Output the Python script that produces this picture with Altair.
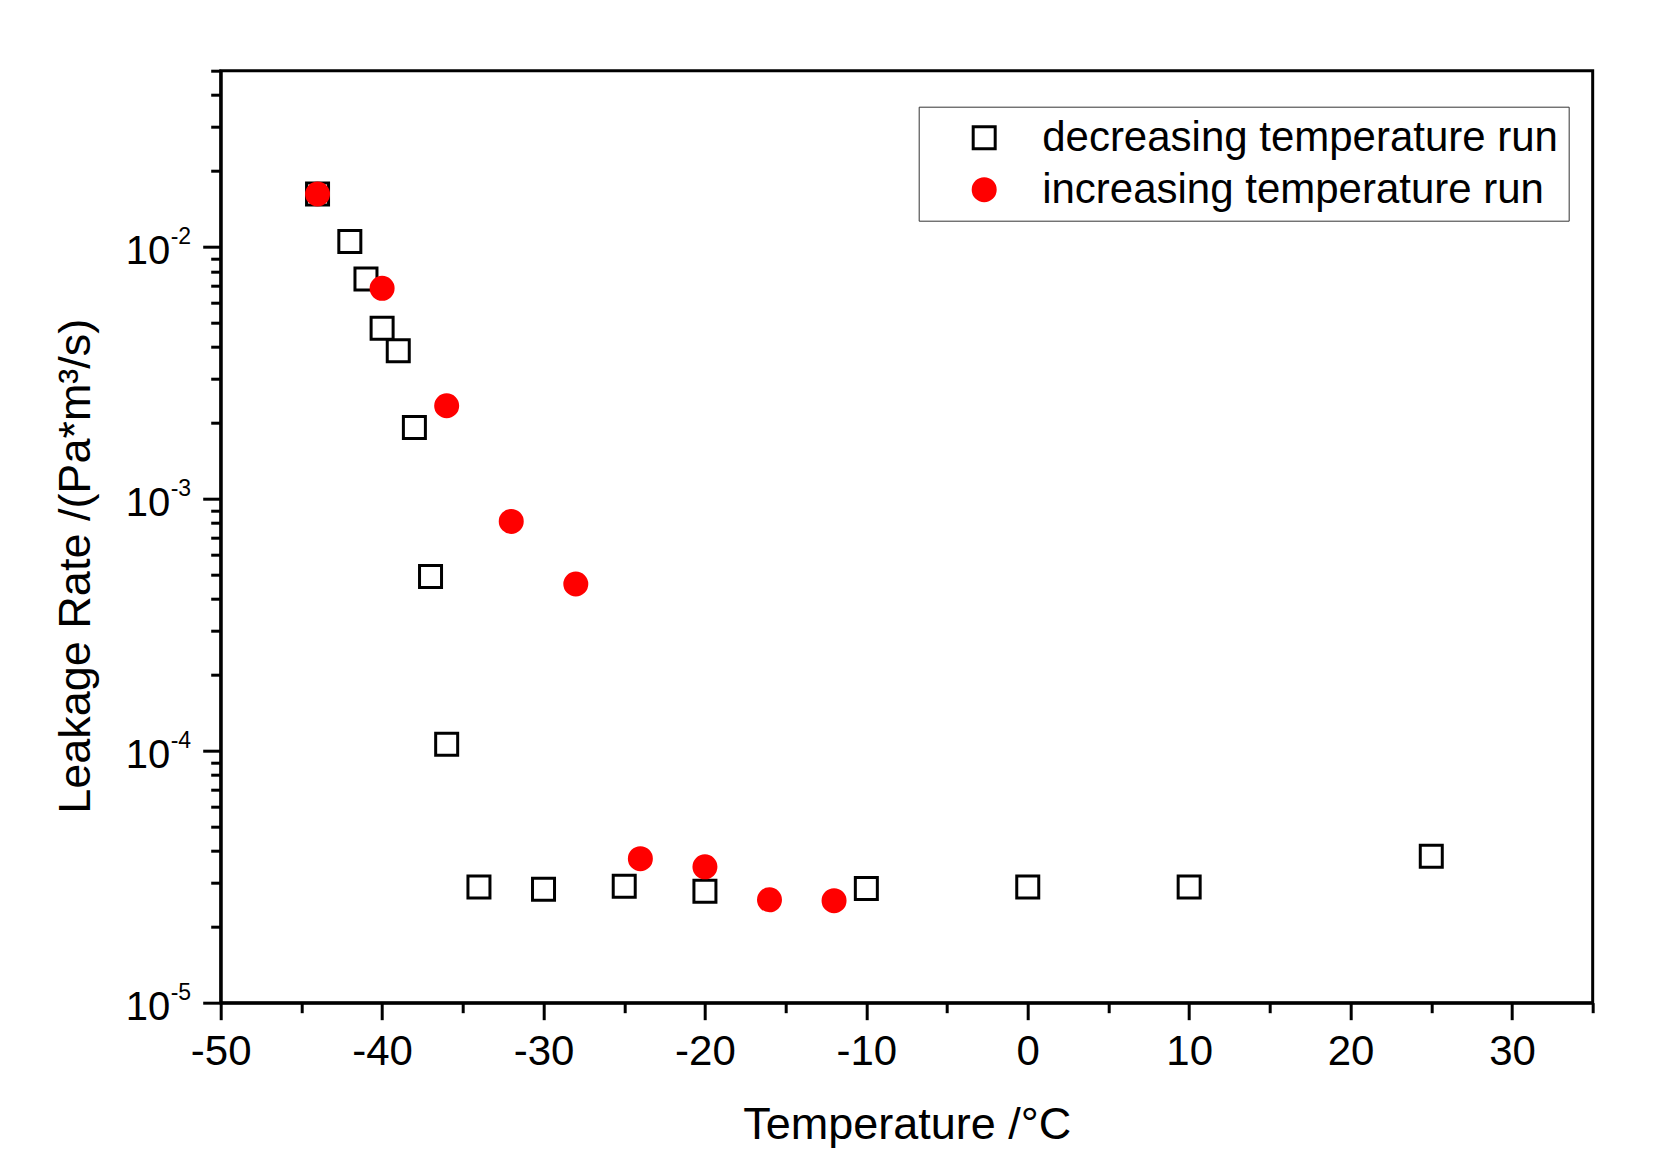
import altair as alt
import pandas as pd

# ---- data ----
dec_temp = [-44, -42, -41, -40, -39, -38, -37, -36, -34, -30, -25, -20, -10, 0, 10, 25]
dec_rate = [1.62e-2, 1.05e-2, 7.46e-3, 4.75e-3, 3.87e-3, 1.92e-3, 4.91e-4, 1.06e-4,
            2.88e-5, 2.82e-5, 2.90e-5, 2.77e-5, 2.84e-5, 2.88e-5, 2.88e-5, 3.81e-5]
inc_temp = [-44, -40, -36, -32, -28, -24, -20, -16, -12]
inc_rate = [1.62e-2, 6.84e-3, 2.34e-3, 8.13e-4, 4.59e-4, 3.73e-5, 3.46e-5, 2.56e-5, 2.54e-5]

series_names = ["decreasing temperature run", "increasing temperature run"]

x_major = [-50, -40, -30, -20, -10, 0, 10, 20, 30]
x_minor = [-45, -35, -25, -15, -5, 5, 15, 25, 35]
y_major = [1e-5, 1e-4, 1e-3, 1e-2]
y_exponents = ["-5", "-4", "-3", "-2"]
y_minor = [m * d for d in [1e-5, 1e-4, 1e-3] for m in range(2, 10)] + [0.02, 0.03, 0.04, 0.05]

x_domain = [-50, 35]
y_domain = [1e-5, 0.05]

FONT = "Liberation Sans"

df = pd.DataFrame({
    "Temperature": dec_temp + inc_temp,
    "Rate": dec_rate + inc_rate,
    "Series": [series_names[0]] * len(dec_temp) + [series_names[1]] * len(inc_temp),
})
exp_df = pd.DataFrame({"Rate": y_major, "Exp": y_exponents})

xscale = alt.Scale(domain=x_domain, nice=False, zero=False)
yscale = alt.Scale(type="log", domain=y_domain, nice=False)

points = alt.Chart(df).mark_point(size=484, strokeWidth=3, opacity=1).encode(
    x=alt.X("Temperature:Q", scale=xscale,
            axis=alt.Axis(values=x_major, labelExpr="toString(datum.value)", labelFlush=False,
                          title="Temperature /°C", titleFontSize=45, titleFont=FONT,
                          titleFontWeight="normal", titleBaseline="alphabetic",
                          titleY=136, titleColor="black",
                          labelFontSize=42, labelFont=FONT, labelColor="black",
                          labelPadding=12, tickSize=17, tickWidth=3, tickColor="black",
                          domainWidth=3, domainColor="black", grid=False, orient="bottom")),
    y=alt.Y("Rate:Q", scale=yscale,
            axis=alt.Axis(values=y_major, labelExpr="'10'", labelFlush=False,
                          title="Leakage Rate /(Pa*m³/s)", titleFontSize=45, titleFont=FONT,
                          titleFontWeight="normal", titleBaseline="alphabetic",
                          titleX=-131, titleY=495, titleAngle=270, titleColor="black",
                          labelFontSize=40, labelFont=FONT, labelColor="black",
                          labelPadding=33, labelOffset=4.6, labelBaseline="middle",
                          tickSize=18, tickWidth=3, tickColor="black",
                          domainWidth=3, domainColor="black", grid=False, orient="left")),
    shape=alt.Shape("Series:N", scale=alt.Scale(domain=series_names, range=["square", "circle"]),
                    legend=alt.Legend(title=None, orient="none", legendX=698, legendY=36,
                                      labelFontSize=42, labelFont=FONT, labelColor="black",
                                      labelLimit=0,
                                      symbolSize=484, symbolStrokeWidth=3,
                                      padding=10, symbolOffset=34.5, labelOffset=37, rowPadding=10,
                                      strokeColor="#333333", fillColor="white")),
    fill=alt.Fill("Series:N", scale=alt.Scale(domain=series_names, range=["transparent", "#ff0000"])),
    stroke=alt.Stroke("Series:N", scale=alt.Scale(domain=series_names, range=["black", "#ff0000"])),
)

minor = alt.Chart(df).mark_point(opacity=0).encode(
    x=alt.X("Temperature:Q", scale=xscale,
            axis=alt.Axis(values=x_minor, labels=False, title=None, tickSize=10, tickWidth=3,
                          tickColor="black", domain=False, grid=False, orient="bottom")),
    y=alt.Y("Rate:Q", scale=yscale,
            axis=alt.Axis(values=y_minor, labels=False, title=None, tickSize=10, tickWidth=3,
                          tickColor="black", domain=False, grid=False, orient="left")),
)

exps = alt.Chart(exp_df).mark_text(align="left", baseline="alphabetic", fontSize=23,
                                   font=FONT, color="black", dy=-3).encode(
    x=alt.value(-50),
    y=alt.Y("Rate:Q", scale=yscale, axis=None),
    text="Exp:N",
)

chart = alt.layer(minor, points, exps).resolve_axis(x="independent", y="independent").properties(
    width=1372, height=932,
    autosize=alt.AutoSizeParams(type="none"),
    padding={"left": 212.7, "top": 62.7, "right": 30, "bottom": 150},
    background="white",
).configure_view(stroke="black", strokeWidth=3)

chart.save("out.html", embed_options={"renderer": "svg", "actions": False})
